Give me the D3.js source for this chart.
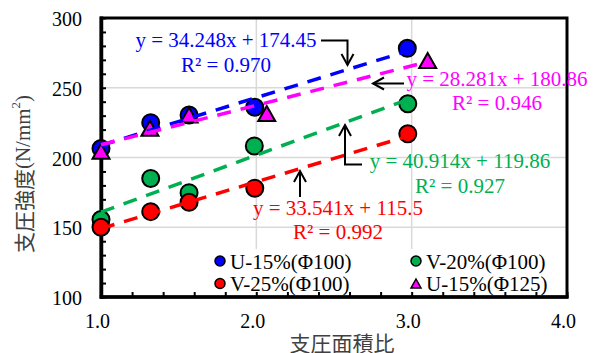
<!DOCTYPE html>
<html>
<head>
<meta charset="utf-8">
<script src="https://cdn.jsdelivr.net/npm/d3@7/dist/d3.min.js"></script>
<style>
  html, body { margin: 0; padding: 0; background: #fff; }
  svg { display: block; }
</style>
</head>
<body>
<script>
// Bearing strength vs. bearing area ratio, four specimen series with linear fits
const seriesNames = ["U-15%(Φ100)", "V-20%(Φ100)", "V-25%(Φ100)", "U-15%(Φ125)"];
const seriesColors = ["#0000FF", "#00B050", "#FF0000", "#FF00FF"];
const seriesShapes = ["circle", "circle", "circle", "triangle"];

const u15d100X = [1.0, 1.32, 1.567, 1.99, 2.972];
const u15d100Y = [206.5, 225.0, 230.5, 236.0, 278.3];
const v20d100X = [1.0, 1.32, 1.567, 1.987, 2.975];
const v20d100Y = [155.5, 185.0, 174.8, 208.3, 238.5];
const v25d100X = [1.0, 1.32, 1.567, 1.99, 2.975];
const v25d100Y = [150.0, 161.2, 167.9, 178.0, 217.0];
const u15d125X = [1.0, 1.315, 1.567, 2.067, 3.103];
const u15d125Y = [204.5, 221.0, 230.5, 231.5, 269.5];

// Linear regression results (y = a x + b)
const fitSlopes = [34.248, 40.914, 33.541, 28.281];
const fitIntercepts = [174.45, 119.86, 115.5, 180.86];
const fitR2 = [0.970, 0.927, 0.992, 0.946];

const xTicks = [1, 2, 3, 4];
const yTicks = [100, 150, 200, 250, 300];
const xTitle = "支圧面積比";
const yTitleJa = "支圧強度";

const seriesX = [u15d100X, v20d100X, v25d100X, u15d125X];
const seriesY = [u15d100Y, v20d100Y, v25d100Y, u15d125Y];

const W = 595, H = 353;
const plot = { left: 101, right: 567, top: 18, bottom: 297 };
const serif = "Liberation Serif";
const cjk = "Noto Sans CJK JP";

const x = d3.scaleLinear().domain([1, 4]).range([plot.left, plot.right]);
const y = d3.scaleLinear().domain([100, 300]).range([plot.bottom, plot.top]);

const svg = d3.select("body").append("svg").attr("width", W).attr("height", H);

// gridlines
const grid = svg.append("g").attr("stroke", "#d9d9d9").attr("stroke-width", 1.5);
xTicks.slice(1, -1).forEach(t => grid.append("line")
  .attr("x1", x(t)).attr("x2", x(t)).attr("y1", plot.top).attr("y2", plot.bottom));
yTicks.slice(1, -1).forEach(t => grid.append("line")
  .attr("x1", plot.left).attr("x2", plot.right).attr("y1", y(t)).attr("y2", y(t)));

// legend background hides the gridlines behind it
svg.append("rect").attr("x", 212).attr("y", 249).attr("width", 350).attr("height", 43)
  .attr("fill", "#fff");

// axes with inward ticks (major + minor)
const xAxis = d3.axisBottom(x).tickValues(d3.range(1, 4.0001, 0.2)).tickSize(-5).tickFormat("");
const yAxis = d3.axisLeft(y).tickValues(d3.range(100, 300.001, 10)).tickSize(-5).tickFormat("");
const gx = svg.append("g").attr("transform", `translate(0,${plot.bottom})`).call(xAxis);
const gy = svg.append("g").attr("transform", `translate(${plot.left},0)`).call(yAxis);
[gx, gy].forEach(g => {
  g.select(".domain").remove();
  g.selectAll(".tick line").attr("stroke", "#000").attr("stroke-width", 2);
});

// plot frame
svg.append("rect").attr("x", plot.left).attr("y", plot.top)
  .attr("width", plot.right - plot.left).attr("height", plot.bottom - plot.top)
  .attr("fill", "none").attr("stroke", "#000").attr("stroke-width", 3);
svg.append("line").attr("x1", plot.left + 0.5).attr("x2", plot.left + 0.5)
  .attr("y1", plot.top - 1.5).attr("y2", plot.bottom + 1.75).attr("stroke", "#000").attr("stroke-width", 3.5);
svg.append("line").attr("x1", plot.left - 1.25).attr("x2", plot.right + 1.5)
  .attr("y1", plot.bottom).attr("y2", plot.bottom).attr("stroke", "#000").attr("stroke-width", 3.5);

// tick labels
svg.append("g").selectAll("text").data(yTicks).join("text")
  .attr("x", 82).attr("y", d => y(d) + 8)
  .attr("text-anchor", "end").attr("font-family", serif).attr("font-size", 20)
  .attr("fill", "#000").text(d => d);
svg.append("g").selectAll("text").data(xTicks).join("text")
  .attr("x", d => x(d) - 3.5).attr("y", 328)
  .attr("text-anchor", "middle").attr("font-family", serif).attr("font-size", 20)
  .attr("fill", "#000").text(d => d.toFixed(1));

// axis titles
svg.append("text").attr("x", 342).attr("y", 342).attr("dominant-baseline", "central")
  .attr("text-anchor", "middle").attr("font-family", cjk).attr("font-size", 21)
  .attr("fill", "#404040").text(xTitle);
const yt = svg.append("text").attr("transform", "translate(23,174) rotate(-90)")
  .attr("dominant-baseline", "central").attr("text-anchor", "middle")
  .attr("font-size", 21).attr("fill", "#404040");
yt.append("tspan").attr("font-family", cjk).text(yTitleJa);
yt.append("tspan").attr("font-family", serif).text("(N/mm");
yt.append("tspan").attr("font-family", serif).attr("font-size", 13).attr("dy", -8).text("2");
yt.append("tspan").attr("font-family", serif).attr("dy", 8).text(")");

// marker shapes
function trianglePath(w, h) {
  return `M0,${-h / 2}L${w / 2},${h / 2}L${-w / 2},${h / 2}Z`;
}
function drawMarker(g, shape, color, cx, cy, big) {
  if (shape === "circle") {
    g.append("circle").attr("cx", cx).attr("cy", cy).attr("r", big ? 8.5 : 5)
      .attr("fill", color).attr("stroke", "#000").attr("stroke-width", big ? 2 : 1.5);
  } else {
    g.append("path").attr("transform", `translate(${cx},${cy})`)
      .attr("d", big ? trianglePath(17, 15) : trianglePath(10, 9))
      .attr("fill", color).attr("stroke", "#000").attr("stroke-width", big ? 2 : 1.5);
  }
}

// data points
const pts = svg.append("g");
seriesNames.forEach((name, i) => {
  seriesX[i].forEach((xv, j) => drawMarker(pts, seriesShapes[i], seriesColors[i], x(xv), y(seriesY[i][j]), true));
});

// linear trend lines over each series' x range
const fits = svg.append("g").attr("fill", "none").attr("stroke-width", 3.5).attr("stroke-dasharray", "14,10");
seriesNames.forEach((name, i) => {
  const [x0, x1] = d3.extent(seriesX[i]);
  const f = v => fitSlopes[i] * v + fitIntercepts[i];
  fits.append("line").attr("stroke", seriesColors[i])
    .attr("x1", x(x0)).attr("y1", y(f(x0))).attr("x2", x(x1)).attr("y2", y(f(x1)));
});

// regression equations
const eqPos = [[226, 47, 72], [460, 168, 193], [338, 215, 239], [497, 86, 110]];
seriesNames.forEach((name, i) => {
  const [cx, y1, y2] = eqPos[i];
  const g = svg.append("g").attr("font-family", serif).attr("font-size", 21)
    .attr("fill", seriesColors[i]).attr("text-anchor", "middle");
  g.append("text").attr("x", cx).attr("y", y1)
    .text(`y = ${fitSlopes[i]}x + ${fitIntercepts[i]}`);
  g.append("text").attr("x", cx).attr("y", y2)
    .text(`R² = ${fitR2[i].toFixed(3)}`);
});

// leader arrows from equations to their lines
const arrows = svg.append("g").attr("fill", "none").attr("stroke", "#000").attr("stroke-width", 2);
function arrow(points, dir) {
  arrows.append("path").attr("d", d3.line()(points));
  const [tx, ty] = points[points.length - 1];
  const L = 11, S = 6;
  let wings;
  if (dir === "down") wings = [[tx - S, ty - L], [tx, ty], [tx + S, ty - L]];
  else if (dir === "up") wings = [[tx - S, ty + L], [tx, ty], [tx + S, ty + L]];
  else wings = [[tx + L, ty - S], [tx, ty], [tx + L, ty + S]];
  arrows.append("path").attr("d", d3.line()(wings));
}
arrow([[321, 40.5], [347.5, 40.5], [347.5, 65]], "down");
arrow([[404, 83.5], [373, 83.5]], "left");
arrow([[362, 164.5], [345, 164.5], [345, 125]], "up");
arrow([[300, 197], [300, 171]], "up");

// legend
const legendPos = [[220, 261], [416, 261], [220, 283.5], [416, 283.5]];
const lg = svg.append("g");
seriesNames.forEach((name, i) => {
  const [lx, ly] = legendPos[i];
  drawMarker(lg, seriesShapes[i], seriesColors[i], lx, ly, false);
  lg.append("text").attr("x", lx + 10).attr("y", ly + 7.5)
    .attr("font-family", serif).attr("font-size", 21).attr("fill", "#000").text(name);
});
</script>
</body>
</html>
